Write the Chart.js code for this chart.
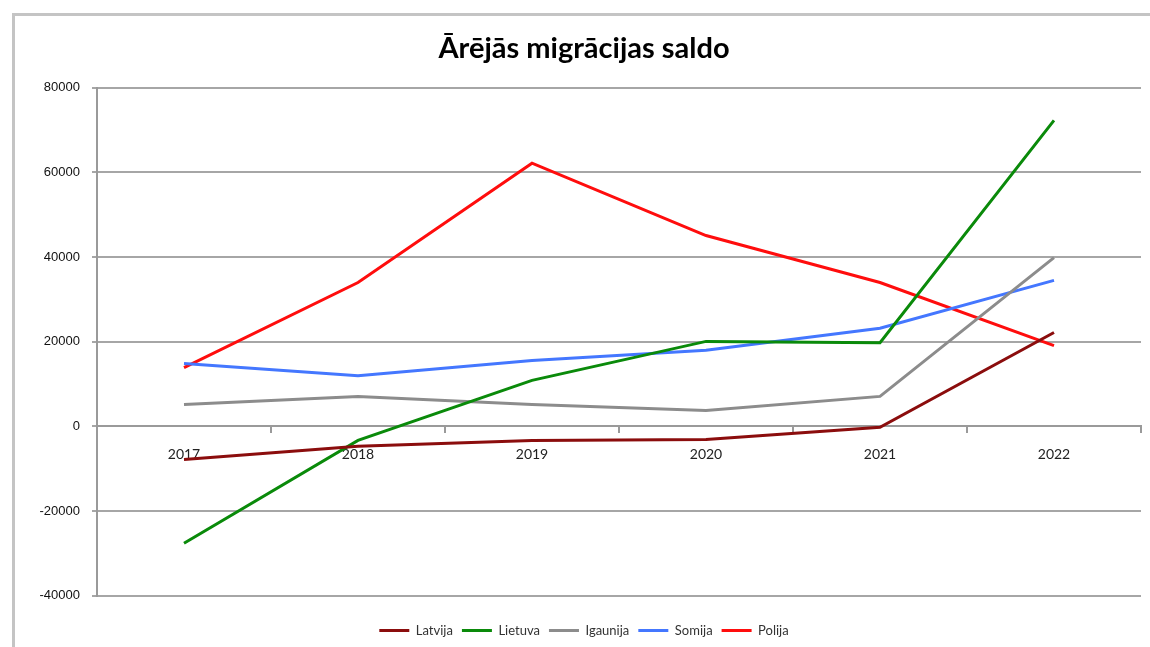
<!DOCTYPE html>
<html>
<head>
<meta charset="utf-8">
<script src="https://cdn.jsdelivr.net/npm/chart.js@4"></script>
<style>
  html, body { margin: 0; padding: 0; background: #fff; }
  #wrap { position: relative; width: 1150px; height: 647px; }
</style>
</head>
<body>
<div id="wrap"><canvas id="chart"></canvas></div>
<script>
// Dati no attēla (aptuveni nolasīti)
const years = ['2017', '2018', '2019', '2020', '2021', '2022'];
const latvija  = [-7800, -4700, -3300, -3100, -200, 22200];
const lietuva  = [-27600, -3300, 10900, 20100, 19800, 72300];
const igaunija = [5200, 7100, 5200, 3800, 7100, 39900];
const somija   = [14900, 12000, 15600, 18000, 23200, 34500];
const polija   = [13900, 34000, 62200, 45100, 34000, 19100];

const seriesNames = ['Latvija', 'Lietuva', 'Igaunija', 'Somija', 'Polija'];
const seriesColors = ['#8b0d0d', '#0a8a0a', '#8c8c8c', '#4477ff', '#ff0d0d'];
const seriesData = [latvija, lietuva, igaunija, somija, polija];

// rāmis ap diagrammu
const framePlugin = {
    id: 'frame',
    beforeDraw(chart) {
        const c = chart.ctx;
        c.save();
        c.strokeStyle = '#c4c4c4';
        c.lineWidth = 3;
        c.beginPath();
        c.moveTo(13.5, chart.height);
        c.lineTo(13.5, 14.5);
        c.lineTo(chart.width, 14.5);
        c.stroke();
        c.restore();
    }
};

new Chart(document.getElementById('chart'), {
    type: 'line',
    data: {
        labels: years,
        datasets: seriesNames.map((name, i) => ({
            label: name,
            data: seriesData[i],
            borderColor: seriesColors[i],
            backgroundColor: seriesColors[i],
            borderWidth: 3,
            pointRadius: 0,
            tension: 0
        }))
    },
    options: {
        responsive: true,
        maintainAspectRatio: false,
        animation: false,
        layout: { padding: { left: 27, right: 9, top: 16, bottom: 0 } },
        scales: {
            x: {
                position: { y: 0 },
                offset: true,
                border: { color: '#9a9a9a', width: 2 },
                grid: { drawOnChartArea: false, offset: true, tickLength: 6, color: '#9a9a9a', lineWidth: 2 },
                ticks: { color: '#222', padding: 14, font: { family: 'Lato', size: 14 } }
            },
            y: {
                min: -40000,
                max: 80000,
                afterFit: s => { s.width = 70; },
                border: { color: '#9a9a9a', width: 2 },
                grid: { color: '#a6a6a6', lineWidth: 2, tickLength: 5 },
                ticks: {
                    stepSize: 20000,
                    color: '#111',
                    padding: 12,
                    font: { family: 'Liberation Sans', size: 13 },
                    callback: v => String(v)
                }
            }
        },
        plugins: {
            title: {
                display: true,
                text: 'Ārējās migrācijas saldo',
                color: '#000',
                font: { family: 'Lato', size: 29, weight: 'bold' },
                padding: { top: 15, bottom: 22 }
            },
            legend: {
                position: 'bottom',
                // tukšs virsraksts tikai atstarpei virs leģendas
                title: { display: true, text: ' ', font: { size: 1 }, padding: { top: 0, bottom: 18 } },
                labels: {
                    usePointStyle: true,
                    pointStyle: 'line',
                    pointStyleWidth: 30,
                    boxHeight: 3,
                    padding: 9,
                    color: '#333',
                    font: { family: 'Lato', size: 13 }
                }
            },
            tooltip: { enabled: false }
        }
    },
    plugins: [framePlugin]
});
</script>
</body>
</html>
